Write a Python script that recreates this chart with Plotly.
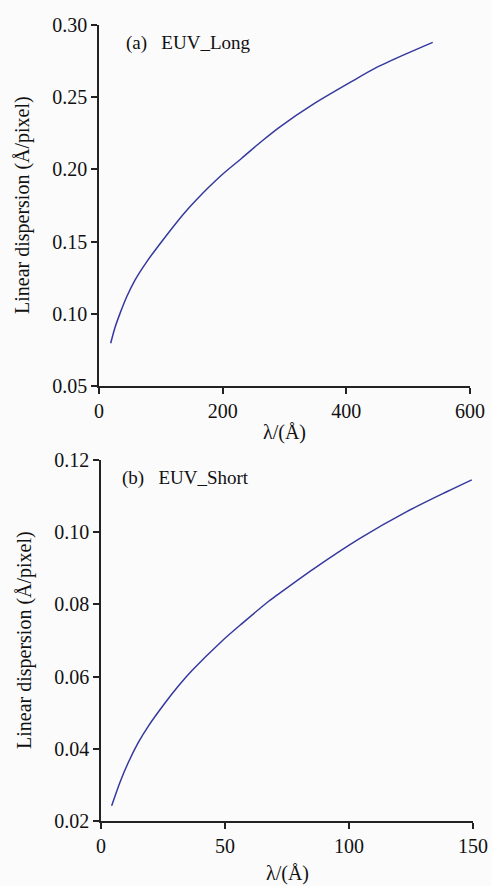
import plotly.graph_objects as go

# (a) EUV_Long
long_wl = [18.9, 25.9, 34.0, 45.0, 58.0, 77.1, 104.0, 136.4, 155.3, 198.4, 230.8, 263.1,
           292.7, 346.6, 406.0, 449.0, 497.7, 539.7]
long_disp = [0.0796, 0.0905, 0.1003, 0.1120, 0.1232, 0.1360, 0.1515, 0.1690, 0.1780, 0.1961,
             0.2077, 0.2195, 0.2295, 0.2452, 0.2602, 0.2706, 0.2802, 0.2880]

# (b) EUV_Short
short_wl = [4.3, 7.7, 11.0, 15.0, 19.1, 25.8, 31.2, 36.6, 48.7, 56.7, 67.5,
            72.2, 85.6, 104.4, 123.3, 139.4, 149.5]
short_disp = [0.0242, 0.0308, 0.0362, 0.0417, 0.0463, 0.0527, 0.0574, 0.0616, 0.0698,
              0.0746, 0.0808, 0.0832, 0.0898, 0.0983, 0.1057, 0.1112, 0.1145]

top_xticks = [0, 200, 400, 600]
top_yticks = [0.05, 0.10, 0.15, 0.20, 0.25, 0.30]
bot_xticks = [0, 50, 100, 150]
bot_yticks = [0.02, 0.04, 0.06, 0.08, 0.10, 0.12]

W, H = 491, 886
LINE = '#35399e'
AX = '#222222'
FONT = '"Liberation Serif", "Times New Roman", "DejaVu Serif", serif'
BG = '#fbfbfb'

fig = go.Figure()
fig.add_trace(go.Scatter(x=long_wl, y=long_disp, mode='lines',
                         line=dict(color=LINE, width=1.5, shape='spline', smoothing=0.8),
                         xaxis='x', yaxis='y', showlegend=False))
fig.add_trace(go.Scatter(x=short_wl, y=short_disp, mode='lines',
                         line=dict(color=LINE, width=1.5, shape='spline', smoothing=0.8),
                         xaxis='x2', yaxis='y2', showlegend=False))

common = dict(showline=True, linecolor=AX, linewidth=1.5, ticks='outside', ticklen=6, tickwidth=1.5,
              tickcolor=AX, showgrid=False, zeroline=False, automargin=False,
              tickfont=dict(family=FONT, size=20, color='#111111'))

fig.update_layout(
    width=W, height=H,
    margin=dict(l=0, r=0, t=0, b=0),
    paper_bgcolor=BG, plot_bgcolor=BG,
    font=dict(family=FONT),
    xaxis=dict(domain=[99 / W, 470 / W], range=[0, 600], tickvals=top_xticks,
               ticktext=[str(v) for v in top_xticks], anchor='y', **common),
    yaxis=dict(domain=[1 - 386 / H, 1 - 25 / H], range=[0.05, 0.30], tickvals=top_yticks,
               ticktext=['%.2f' % v for v in top_yticks], anchor='x', **common),
    xaxis2=dict(domain=[101 / W, 473 / W], range=[0, 150], tickvals=bot_xticks,
                ticktext=[str(v) for v in bot_xticks], anchor='y2', **common),
    yaxis2=dict(domain=[1 - 821 / H, 1 - 460 / H], range=[0.02, 0.12], tickvals=bot_yticks,
                ticktext=['%.2f' % v for v in bot_yticks], anchor='x2', **common),
)

tf = dict(family=FONT, size=20, color='#111111')
lab = dict(family=FONT, size=19, color='#111111')
ann = [
    dict(text='(a)&nbsp;&nbsp;&nbsp;EUV_Long', x=124 / W, y=1 - 43 / H, xanchor='left', yanchor='middle', font=lab),
    dict(text='(b)&nbsp;&nbsp;&nbsp;EUV_Short', x=120 / W, y=1 - 478 / H, xanchor='left', yanchor='middle', font=lab),
    dict(text='Linear dispersion (Å/pixel)', x=22 / W, y=1 - 205 / H, textangle=-90,
         xanchor='center', yanchor='middle', font=tf),
    dict(text='Linear dispersion (Å/pixel)', x=24 / W, y=1 - 640 / H, textangle=-90,
         xanchor='center', yanchor='middle', font=tf),
    dict(text='λ/(Å)', x=284 / W, y=1 - 432 / H, xanchor='center', yanchor='middle', font=tf),
    dict(text='λ/(Å)', x=287 / W, y=1 - 873 / H, xanchor='center', yanchor='middle', font=tf),
]
for a in ann:
    a.update(xref='paper', yref='paper', showarrow=False)
fig.update_layout(annotations=ann)

fig.write_html('out.html')
